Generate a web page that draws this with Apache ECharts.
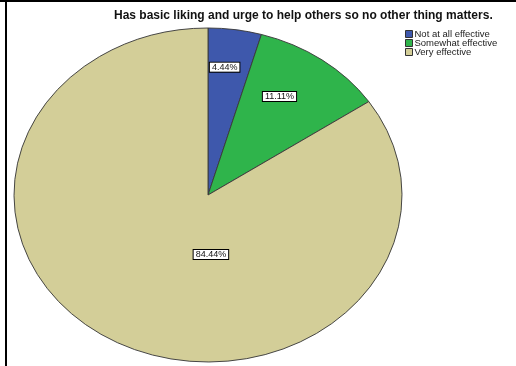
<!DOCTYPE html>
<html>
<head>
<meta charset="utf-8">
<script src="https://cdn.jsdelivr.net/npm/echarts@6/dist/echarts.min.js"></script>
<style>
  html, body { margin: 0; padding: 0; background: #fff; }
  #chart { width: 516px; height: 366px; }
</style>
</head>
<body>
<div id="chart"></div>
<script>
// Response shares (percent) for each answer category
const categories = ['Not at all effective', 'Somewhat effective', 'Very effective'];
const percents = [4.44, 11.11, 84.44];
const sliceColors = ['#3e58ac', '#2fb44b', '#d3ce98'];
const chartTitle = 'Has basic liking and urge to help others so no other thing matters.';

// Oval pie geometry (pixels)
const CX = 208, CY = 195, RX = 194, RY = 167;

const total = percents.reduce((a, b) => a + b, 0);
const starts = [];
let acc = 0;
percents.forEach(v => { starts.push(acc); acc += v; });

function makeSlice(i) {
  return {
    type: 'custom',
    name: categories[i],
    coordinateSystem: 'none',
    itemStyle: { color: sliceColors[i] },
    data: [percents[i]],
    renderItem: function (params, api) {
      const v = api.value(0);
      const a0 = -Math.PI / 2 + 2 * Math.PI * starts[i] / total;
      const a1 = a0 + 2 * Math.PI * v / total;
      const frac = v / total;
      // label sits 40% of the way through the slice's sweep; bigger slices pull it inward
      const la = a0 + 0.4 * (a1 - a0);
      const f = Math.max(0.356, 0.82 - 1.12 * frac);
      const lx = CX + RX * f * Math.cos(la);
      const ly = CY + RY * f * Math.sin(la);
      return {
        type: 'group',
        children: [
          {
            type: 'sector',
            x: CX, y: CY,
            scaleX: 1, scaleY: RY / RX,
            shape: { cx: 0, cy: 0, r0: 0, r: RX, startAngle: a0, endAngle: a1, clockwise: true },
            style: { fill: api.visual('color'), stroke: '#3a3a3a', lineWidth: 1, strokeNoScale: true }
          },
          {
            type: 'text',
            z2: 10,
            style: {
              text: v.toFixed(2) + '%',
              x: lx, y: ly,
              align: 'center', verticalAlign: 'middle',
              fontFamily: 'Liberation Sans, Arial, sans-serif',
              fontSize: 9,
              lineHeight: 9,
              fill: '#111',
              backgroundColor: '#fff',
              borderColor: '#000',
              borderWidth: 1,
              padding: [0, 2, 0, 2]
            }
          }
        ]
      };
    }
  };
}

const chart = echarts.init(document.getElementById('chart'), null, { renderer: 'canvas' });
chart.setOption({
  animation: false,
  backgroundColor: '#fff',
  title: {
    text: chartTitle,
    left: 114, top: 10,
    padding: 0,
    textStyle: { fontFamily: 'Liberation Sans, Arial, sans-serif', fontSize: 12, fontWeight: 'bold', color: '#111' }
  },
  legend: {
    orient: 'vertical',
    left: 405, top: 29,
    padding: 0,
    itemGap: -1,
    itemWidth: 7, itemHeight: 7,
    icon: 'rect',
    itemStyle: { borderColor: '#333', borderWidth: 1 },
    textStyle: { fontFamily: 'Liberation Sans, Arial, sans-serif', fontSize: 9.5, color: '#222', padding: [0, 0, 0, -3], lineHeight: 9 },
    data: categories
  },
  graphic: [
    { type: 'rect', shape: { x: 0, y: 0, width: 516, height: 2 }, style: { fill: '#000' } },
    { type: 'rect', shape: { x: 5, y: 0, width: 2, height: 366 }, style: { fill: '#000' } }
  ],
  series: categories.map((c, i) => makeSlice(i))
});
</script>
</body>
</html>
